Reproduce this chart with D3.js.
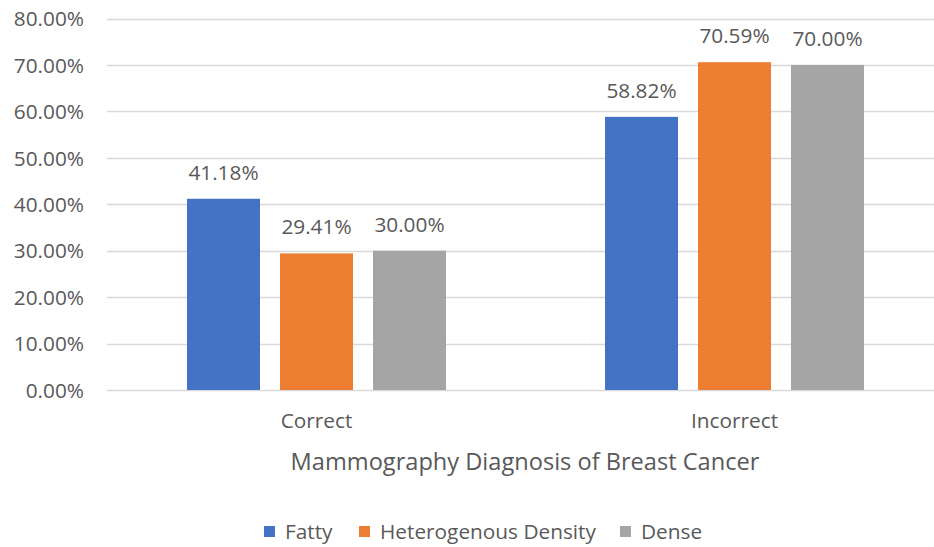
<!DOCTYPE html>
<html><head><meta charset="utf-8">
<script src="https://cdn.jsdelivr.net/npm/d3@7"></script>
<style>body{margin:0;background:#fff}svg{display:block}text{font-family:"Open Sans",sans-serif;fill:#595959}</style>
</head><body><svg id="c" width="934" height="547"></svg>
<script>
const categories = ["Correct", "Incorrect"];
const seriesNames = ["Fatty", "Heterogenous Density", "Dense"];
const fatty = [0.4118, 0.5882];
const hetero = [0.2941, 0.7059];
const dense = [0.30, 0.70];
const yTicks = [0, 0.1, 0.2, 0.3, 0.4, 0.5, 0.6, 0.7, 0.8];
const colors = ["#4472C4", "#ED7D31", "#A5A5A5"];
const xTitle = "Mammography Diagnosis of Breast Cancer";

const series = [fatty, hetero, dense];
const svg = d3.select("#c");
const y = d3.scaleLinear().domain([0, 0.8]).range([390, 18.5]);
const x0 = d3.scaleBand().domain(categories).range([107.5, 943.5]).paddingInner(0).paddingOuter(0);
const groupW = 259;
const x1 = d3.scaleBand().domain(seriesNames).range([0, groupW]).paddingInner(20/93).paddingOuter(0);
const fmt = d3.format(".2%");
const FS = 20.8;

// gridlines
svg.append("g").selectAll("line").data(yTicks).join("line")
  .attr("x1", 107).attr("x2", 934)
  .attr("y1", d => Math.round(y(d)) + 0.5).attr("y2", d => Math.round(y(d)) + 0.5)
  .attr("stroke", "#D9D9D9").attr("stroke-width", 1.5);

// y axis
const yAxis = d3.axisLeft(y).tickValues(yTicks).tickFormat(fmt).tickSize(0).tickPadding(0);
const gy = svg.append("g").attr("transform", "translate(84,0)").call(yAxis);
gy.select(".domain").remove();
gy.selectAll("text").attr("font-size", FS).attr("fill", "#595959").style("font-family", '"Open Sans",sans-serif').attr("dy", "0.35em");

// bars
const groups = svg.append("g").selectAll("g").data(categories).join("g")
  .attr("transform", c => `translate(${x0(c) + (x0.bandwidth() - groupW) / 2},0)`);
groups.selectAll("rect").data((c, i) => seriesNames.map((s, j) => ({s, j, v: series[j][i]})))
  .join("rect")
  .attr("x", d => x1(d.s)).attr("width", x1.bandwidth())
  .attr("y", d => y(d.v)).attr("height", d => y(0) - y(d.v))
  .attr("fill", d => colors[d.j]);
groups.selectAll("text.val").data((c, i) => seriesNames.map((s, j) => ({s, j, v: series[j][i]})))
  .join("text").attr("class", "val")
  .attr("x", d => x1(d.s) + x1.bandwidth() / 2).attr("y", d => y(d.v) - 19)
  .attr("text-anchor", "middle").attr("font-size", FS).text(d => fmt(d.v));

// x axis labels
const xAxis = d3.axisBottom(x0).tickSize(0).tickPadding(0);
const gx = svg.append("g").attr("transform", "translate(0,421)").call(xAxis);
gx.select(".domain").remove();
gx.selectAll("text").attr("font-size", FS).attr("fill", "#595959").style("font-family", '"Open Sans",sans-serif').attr("dy", "0.35em");

svg.append("text").attr("x", 525).attr("y", 470).attr("text-anchor", "middle")
  .attr("font-size", 23.6).text(xTitle);

// legend
const legX = [264, 359, 620];
const leg = svg.append("g").selectAll("g").data(seriesNames).join("g")
  .attr("transform", (d, i) => `translate(${legX[i]},526)`);
leg.append("rect").attr("width", 11).attr("height", 11).attr("fill", (d, i) => colors[i]);
leg.append("text").attr("x", 21).attr("y", 5.5).attr("dy", "0.35em").attr("font-size", FS).text(d => d);
</script></body></html>
